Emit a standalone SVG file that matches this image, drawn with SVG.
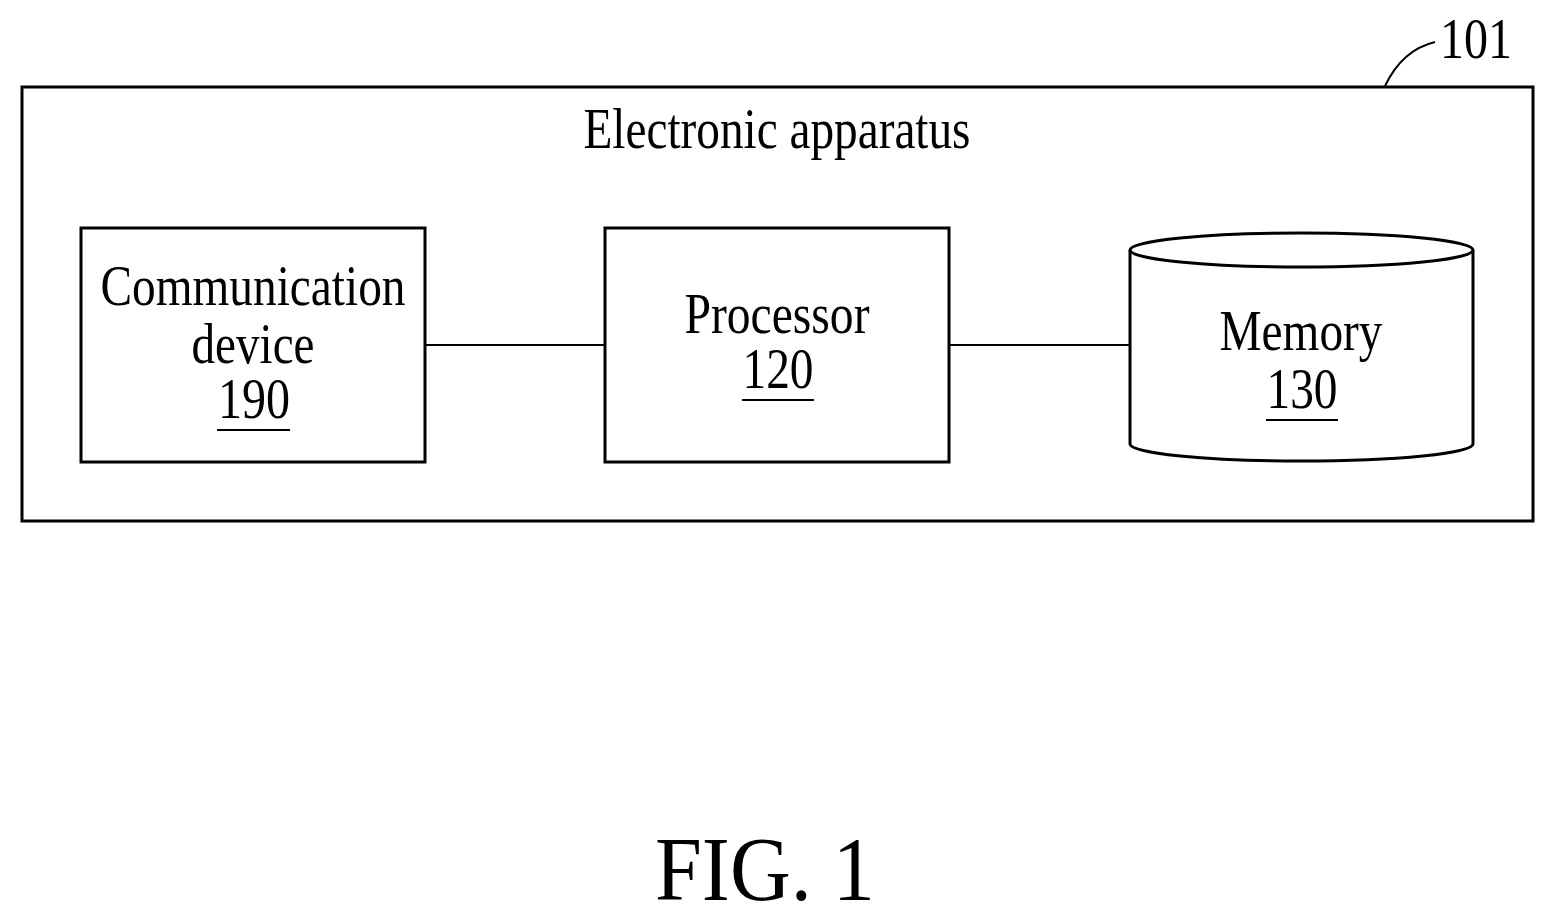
<svg xmlns="http://www.w3.org/2000/svg" width="1555" height="922" viewBox="0 0 1555 922">
<style>
.b{fill:#fff;stroke:#000;stroke-width:3}
.l{fill:none;stroke:#000;stroke-width:2}
text{font-family:"Liberation Serif","Times New Roman",serif;font-size:56px;fill:#000;text-anchor:middle}
</style>
<rect width="1555" height="922" fill="#fff"/>
<g id="apparatus">
<rect class="b" x="22" y="87" width="1511" height="434"/>
<text x="777" y="148" textLength="387" lengthAdjust="spacingAndGlyphs">Electronic apparatus</text>
</g>
<g id="label101">
<path class="l" d="M1385,86 C1395,65 1410,48 1435,42"/>
<text x="1476" y="58" textLength="72" lengthAdjust="spacingAndGlyphs">101</text>
</g>
<g id="connectors">
<line class="l" x1="425" y1="345" x2="605" y2="345"/>
<line class="l" x1="949" y1="345" x2="1130" y2="345"/>
</g>
<g id="comm">
<rect class="b" x="81" y="228" width="344" height="234"/>
<text x="253" y="305" textLength="305" lengthAdjust="spacingAndGlyphs">Communication</text>
<text x="253" y="363" textLength="123" lengthAdjust="spacingAndGlyphs">device</text>
<text x="254" y="418" textLength="72" lengthAdjust="spacingAndGlyphs">190</text>
<line class="l" x1="217" y1="430" x2="290" y2="430"/>
</g>
<g id="processor">
<rect class="b" x="605" y="228" width="344" height="234"/>
<text x="777" y="333" textLength="185" lengthAdjust="spacingAndGlyphs">Processor</text>
<text x="778" y="388" textLength="71" lengthAdjust="spacingAndGlyphs">120</text>
<line class="l" x1="742" y1="400" x2="814" y2="400"/>
</g>
<g id="memory">
<path class="b" d="M1130,250 L1130,444 A171.5,17 0 0 0 1473,444 L1473,250"/>
<ellipse class="b" cx="1301.5" cy="250" rx="171.5" ry="17"/>
<text x="1301" y="350" textLength="163" lengthAdjust="spacingAndGlyphs">Memory</text>
<text x="1302" y="408" textLength="71" lengthAdjust="spacingAndGlyphs">130</text>
<line class="l" x1="1266" y1="420" x2="1338" y2="420"/>
</g>
<text x="765" y="900" style="font-size:92px" textLength="220" lengthAdjust="spacingAndGlyphs">FIG. 1</text>
</svg>
